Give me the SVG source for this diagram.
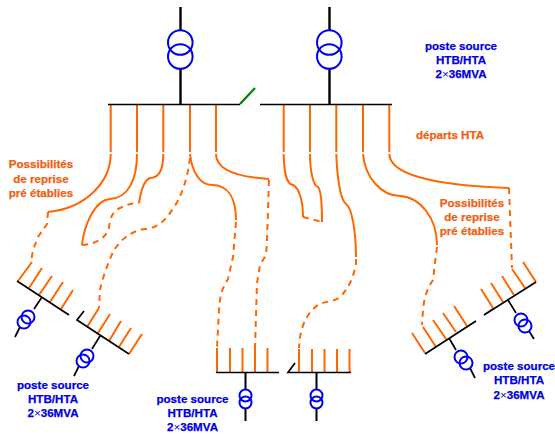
<svg xmlns="http://www.w3.org/2000/svg" width="555" height="434" viewBox="0 0 555 434">
<style>
.k{stroke:#000;fill:none;stroke-width:1.7}
.s{stroke:#000;fill:none;stroke-width:2.4}
.t{stroke:#ff6600;fill:none;stroke-width:2}
.o{stroke:#ff6600;fill:none;stroke-width:2}
.d{stroke:#ff6600;fill:none;stroke-width:2;stroke-dasharray:6 5}
.c{stroke:#0000f0;fill:none;stroke-width:2}
.c2{stroke:#0000f0;fill:none;stroke-width:2}
text{font-family:"Liberation Sans",Arial,sans-serif;font-weight:700;font-size:11.6px;text-anchor:middle;stroke-width:.25}
.b{fill:#0000e0;stroke:#0000e0}
.r{fill:#f06010;stroke:#f06010}
.x{font-weight:400;stroke:none}
</style>
<g id="connectors">
<path class="o" d="M110.700 105V152M137 105V152M163.300 105V152M190 105V152M216 105V152"/>
<path class="o" d="M283.700 105V152M310 105V152M336.300 105V152M363 105V152M389.300 105V152"/>
<path class="o" d="M110.700 154C110.700 180 88 208 48 212"/>
<path class="d" d="M48 212L47 224L38 237L33 250L31 262"/>
<path class="o" d="M137 154C137 180 128 198 110 199C95 200 84 225 82 245"/>
<path class="d" d="M82 245C96 244 106 238 109 228C110 218 112 212 120 208C126 205 132 203 139 203"/>
<path class="o" d="M163.300 154C163.300 168 160 178 150 178C144 180 141 190 139 203"/>
<path class="o" d="M190 154C192 172 200 185 212 185C228 185 236 198 236 220"/>
<path class="d" d="M236 222L233 257L228 279C221 290 220 297 219 310L217 348"/>
<path class="d" d="M190 158C188 176 182 196 174 207C166 220 158 228 145 229C130 231 121 240 114 250C108 262 102 280 100 290L99 308"/>
<path class="o" d="M216 154C216 170 236 177 269 179"/>
<path class="d" d="M269 180L267 240L266 255L260 265L257 283L255 348"/>
<path class="o" d="M283.700 154C284 172 286 184 293 185C299 188 303 200 303 217"/>
<path class="d" d="M303 217L322 222"/>
<path class="o" d="M310 154C310 170 313 186 318 187C321 190 322 205 322 222"/>
<path class="o" d="M336.300 154C337 175 340 200 346 204C352 208 356 232 356 257"/>
<path class="d" d="M356 259L356 263C354 275 350 287 340 297C334 302 325 301 318 305C308 312 300 325 299 348"/>
<path class="o" d="M363 154C365 178 382 196 400 196C420 197 437 218 437 245"/>
<path class="d" d="M437 247L435 263L433 280C426 290 424 300 423 310L422 325"/>
<path class="o" d="M389.300 154C390 178 450 186 509 188"/>
<path class="d" d="M509 188L512 268"/>
</g>
<g id="source-left">
<path class="s" d="M180.500 7V30M180.500 69V104"/>
<circle class="c2" cx="180.300" cy="42.500" r="12.300"/><circle class="c2" cx="180.300" cy="56.500" r="12.300"/>
<path class="k" d="M108 104.500H240"/>
<path d="M240 104L255 88" fill="none" stroke="#008000" stroke-width="2.200"/>
</g>
<g id="source-right">
<path class="s" d="M329.500 7V30M329.500 69V104"/>
<circle class="c2" cx="329.300" cy="42.500" r="12.300"/><circle class="c2" cx="329.300" cy="56.500" r="12.300"/>
<path class="k" d="M260 104.500H392"/>
</g>
<g id="label-top"><text class="b" x="461" y="50">poste source</text><text class="b" x="461" y="64">HTB/HTA</text><text class="b" x="461" y="78">2<tspan class="x">×</tspan>36MVA</text></g>
<g id="label-departs"><text class="r" x="450" y="139">départs HTA</text></g>
<g id="label-reprise-left"><text class="r" x="41" y="168">Possibilités</text><text class="r" x="41" y="183">de reprise</text><text class="r" x="41" y="197">pré établies</text></g>
<g id="label-reprise-right"><text class="r" x="472" y="207">Possibilités</text><text class="r" x="472" y="221">de reprise</text><text class="r" x="472" y="235">pré établies</text></g>
<g id="station-a">
<path class="t" d="M18 281L32 262M29 288L42 268M39 295L52 276M50 302L63 282M61 309L73 290"/>
<path class="k" d="M17 281L69 315M42 297L34 309M20 327L15 337"/>
<circle class="c" cx="28" cy="317" r="6.500"/><circle class="c" cx="24" cy="322" r="6.500"/>
<text class="b" x="53" y="389">poste source</text><text class="b" x="53" y="403">HTB/HTA</text><text class="b" x="53" y="417">2<tspan class="x">×</tspan>36MVA</text>
</g>
<g id="station-b">
<path class="t" d="M87 327L99 308M98 333L110 314M109 341L121 321M119 347L131 328M129 354L142 334"/>
<path class="k" d="M84 311L77 320L129 354M100 336L92 349M79 366L74 376"/>
<circle class="c" cx="87" cy="356" r="6.500"/><circle class="c" cx="83" cy="361" r="6.500"/>
</g>
<g id="station-c">
<path class="t" d="M217 348V372M230 348V372M242.500 348V372M255 348V372M267.500 348V372"/>
<path class="k" d="M216 372.500H279"/>
<path class="k" d="M245.500 372V389M245.500 409V421" style="stroke-width:2"/>
<circle class="c" cx="245.500" cy="395.500" r="6"/><circle class="c" cx="245.500" cy="402.500" r="6"/>
<text class="b" x="192.500" y="403">poste source</text><text class="b" x="192.500" y="417">HTB/HTA</text><text class="b" x="192.500" y="431">2<tspan class="x">×</tspan>36MVA</text>
</g>
<g id="station-d">
<path class="t" d="M299 349V372M312 349V372M324.500 349V372M337 349V372M349.500 349V372"/>
<path class="k" d="M295 363L288 372.500H351"/>
<path class="k" d="M316.500 372V389M316.500 409V421" style="stroke-width:2"/>
<circle class="c" cx="316.500" cy="395.500" r="6"/><circle class="c" cx="316.500" cy="402.500" r="6"/>
</g>
<g id="station-e">
<path class="t" d="M425 353L412 333M436 347L423 327M446 339L433 320M456 332L443 313M467 326L454 306"/>
<path class="k" d="M425 354L476 321M449 338L456 350M470 368L475 378"/>
<circle class="c" cx="461" cy="357" r="6.500"/><circle class="c" cx="466" cy="363" r="6.500"/>
<text class="b" x="519" y="370">poste source</text><text class="b" x="519" y="384">HTB/HTA</text><text class="b" x="519" y="399">2<tspan class="x">×</tspan>36MVA</text>
</g>
<g id="station-f">
<path class="t" d="M493 308L481 289M503 302L491 283M514 295L502 276M525 288L512 269M536 282L523 262"/>
<path class="k" d="M493 309L484 315L536 282M508 300L516 313M529 331L534 339"/>
<circle class="c" cx="521" cy="320" r="6.500"/><circle class="c" cx="525" cy="326" r="6.500"/>
</g>
</svg>
